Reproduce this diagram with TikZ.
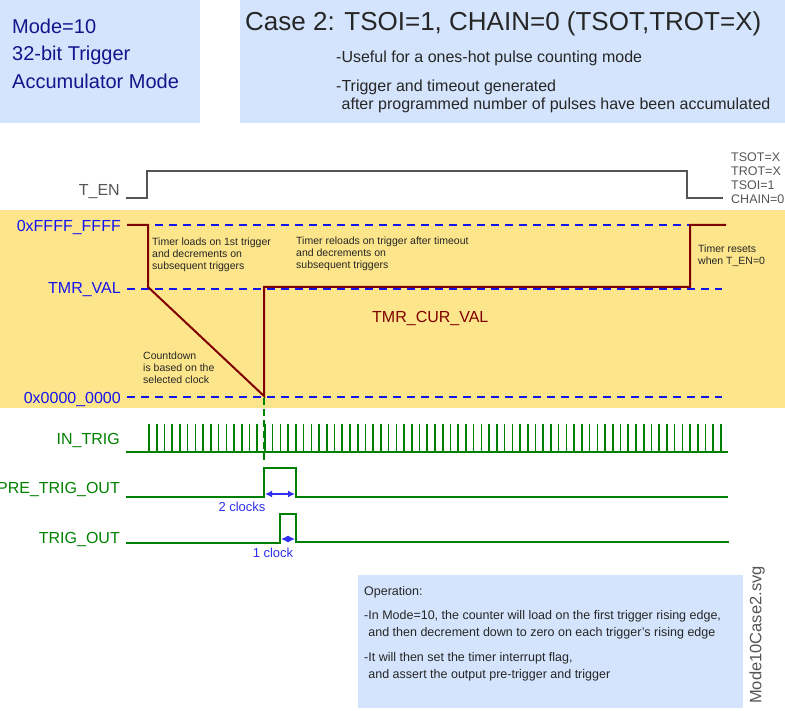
\documentclass[tikz,border=0pt]{standalone}
\usepackage{fontspec}
\setmainfont{Liberation Sans}
\usetikzlibrary{arrows.meta}
\definecolor{boxblue}{HTML}{D4E4FC}
\definecolor{bandyellow}{HTML}{FDE58B}
\definecolor{navy}{HTML}{14148C}
\definecolor{sigred}{HTML}{800000}
\definecolor{siggreen}{HTML}{008000}
\definecolor{engray}{HTML}{555555}
\definecolor{lvlblue}{HTML}{1414F0}
\definecolor{clkblue}{HTML}{3030F0}

\begin{document}
\begin{tikzpicture}[x=1pt,y=-1pt,
  every node/.style={inner sep=0pt},
  head/.style={font=\fontsize{20}{27.5}\selectfont, text=navy, align=left, anchor=north west},
  sub/.style={font=\fontsize{16}{18}\selectfont, text=black!85, align=left},
  note/.style={font=\fontsize{10.5}{12}\selectfont, text=black!85, align=left, anchor=north west},
  sig/.style={font=\fontsize{16}{18}\selectfont, text=siggreen, anchor=base east},
  lvl/.style={sig, text=lvlblue},
  wave/.style={siggreen, line width=2pt},
  level/.style={lvlblue, line width=2pt, dash pattern=on 8pt off 6pt},
  clk/.style={clkblue, line width=1.5pt, {Latex[length=7pt,width=7pt]}-{Latex[length=7pt,width=7pt]}},
  clktext/.style={font=\fontsize{13}{15}\selectfont, text=clkblue, anchor=base}]
\useasboundingbox (0,0) rectangle (785,711);
\fill[boxblue] (0,0) rectangle (200,123);
\fill[boxblue] (240,0) rectangle (785,123);
\fill[boxblue] (358,575) rectangle (743,708);
\fill[bandyellow] (0,210) rectangle (785,408);

\node[head] (mode) at (12,18.5) {Mode=10\\32-bit Trigger\\Accumulator Mode};
\node[font=\fontsize{26}{30}\selectfont, text=black!85, anchor=base west] (title) at (245,31) {Case 2: TSOI=1, CHAIN=0 (TSOT,TROT=X)};
\node[sub, anchor=base west] (useful) at (336,63) {-Useful for a ones-hot pulse counting mode};
\node[sub, anchor=north west] (accum) at (336,80) {-Trigger and timeout generated\\\hspace*{5.5pt}after programmed number of pulses have been accumulated};

\node[sig, text=engray] (ten) at (120,196) {T\_EN};
\node[font=\fontsize{12.5}{14}\selectfont, text=engray, align=left, anchor=north west] (cfg) at (731,153) {TSOT=X\\TROT=X\\TSOI=1\\CHAIN=0};
\draw[engray, line width=2pt] (126,198) -- (147,198) -- (147,171) -- (687,171) -- (687,198) -- (723,198);

\node[lvl] (ffff) at (121,232) {0xFFFF\_FFFF};
\node[lvl] (tmrval) at (121,294) {TMR\_VAL};
\node[lvl] (zero) at (121,403) {0x0000\_0000};
\draw[level] (127,225) -- (722,225);
\draw[level] (127,289) -- (722,289);
\draw[level] (127,397) -- (722,397);
\draw[sigred, line width=2pt] (127,225) -- (148,225) -- (148,287) -- (264,396) -- (264,287) -- (690,287) -- (690,225) -- (726,225);

\node[note] (loads) at (152,238) {Timer loads on 1st trigger\\and decrements on\\subsequent triggers};
\node[note] (reloads) at (296,237) {Timer reloads on trigger after timeout\\and decrements on\\subsequent triggers};
\node[note] (resets) at (698,245) {Timer resets\\when T\_EN=0};
\node[note] (countdown) at (143,352) {Countdown\\is based on the\\selected clock};
\node[font=\fontsize{16}{18}\selectfont, text=sigred, anchor=base west] (curval) at (372,323) {TMR\_CUR\_VAL};

\draw[siggreen, line width=1.5pt, dash pattern=on 7pt off 4pt] (264,398) -- (264,462);

\node[sig] (intrig) at (120,444) {IN\_TRIG};
\draw[wave] (126,452) -- (728,452);
\foreach \i in {0,...,74}
  \draw[siggreen, line width=1.6pt] ({149+7.73*\i},452) -- ++(0,-28);

\node[sig] (pretrig) at (120,493) {PRE\_TRIG\_OUT};
\draw[wave] (126,497) -- (264,497) -- (264,468) -- (296,468) -- (296,497) -- (728,497);
\coordinate (pa) at (265,494); \coordinate (pb) at (295,494);
\draw[clk] (pa) -- (pb);
\node[clktext] (twoclk) at (242,511) {2 clocks};

\node[sig] (trigout) at (120,543) {TRIG\_OUT};
\draw[wave] (126,543) -- (280,543) -- (280,514) -- (296,514) -- (296,542) -- (729,542);
\coordinate (ta) at (281,539); \coordinate (tb) at (295,539);
\draw[clk] (ta) -- (tb);
\node[clktext] (oneclk) at (273,557) {1 clock};

\node[font=\fontsize{12.5}{17}\selectfont, text=black!85, anchor=base west] (op) at (364,595) {Operation:};
\node[font=\fontsize{12.5}{17}\selectfont, text=black!85, align=left, anchor=north west] (opa) at (364,610) {-In Mode=10, the counter will load on the first trigger rising edge,\\\hspace*{4.2pt}and then decrement down to zero on each trigger's rising edge};
\node[font=\fontsize{12.5}{17}\selectfont, text=black!85, align=left, anchor=north west] (opb) at (364,652) {-It will then set the timer interrupt flag,\\\hspace*{4.2pt}and assert the output pre-trigger and trigger};
\node[rotate=90, font=\fontsize{16.5}{18}\selectfont, text=engray] (fname) at (757,635) {Mode10Case2.svg};
\end{tikzpicture}
\end{document}
